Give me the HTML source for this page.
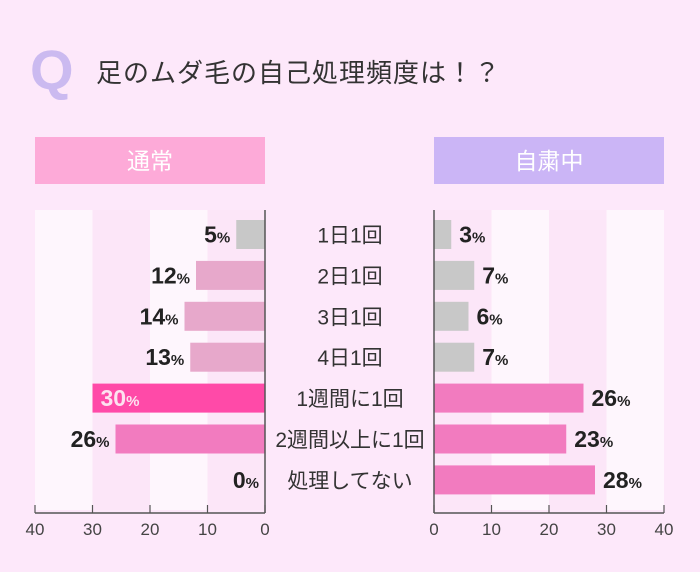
<!DOCTYPE html>
<html><head><meta charset="utf-8"><style>
body{margin:0;width:700px;height:572px;background:#fde8fa;overflow:hidden;font-family:"Liberation Sans","Noto Sans CJK JP",sans-serif;}
svg{display:block}
</style></head><body>
<svg id="c" width="700" height="572">
<text x="30" y="89" font-size="56" font-weight="bold" fill="#cbbaf0" font-family="Liberation Sans, sans-serif">Q</text>
<text x="96" y="82" font-size="26" fill="#333" letter-spacing="1">足のムダ毛の自己処理頻度は！？</text>
<rect x="35" y="137" width="230" height="47" fill="#fdaad8"/>
<text x="150" y="169" font-size="23" fill="#fff" text-anchor="middle">通常</text>
<rect x="434" y="137" width="230" height="47" fill="#cbb5f6"/>
<text x="549" y="169" font-size="23" fill="#fff" text-anchor="middle">自粛中</text>
<g id="g"></g>
</svg>
<script>
const categories=["1日1回","2日1回","3日1回","4日1回","1週間に1回","2週間以上に1回","処理してない"];
const normalValues=[5,12,14,13,30,26,0];
const selfRestraintValues=[3,7,6,7,26,23,28];
const ticks=[0,10,20,30,40];
const leftColors=["#c8c8c8","#e7a8cb","#e7a8cb","#e7a8cb","#ff4aa8","#f27bbf","#f27bbf"];
const rightColors=["#c8c8c8","#c8c8c8","#c8c8c8","#c8c8c8","#f27bbf","#f27bbf","#f27bbf"];
const NS="http://www.w3.org/2000/svg";
const g=document.getElementById('g');
const L0=265,R0=434,S=5.75;
const xl=v=>L0-v*S, xr=v=>R0+v*S;
const yc=i=>234.5+i*40.9;
function mk(t,a,p){const e=document.createElementNS(NS,t);for(const k in a)e.setAttribute(k,a[k]);(p||g).appendChild(e);return e;}
for(let k=0;k<4;k++){
  const fill=(k%2===1)?"#fef6fd":"#fce6f8";
  let r=mk('rect',{x:xl(ticks[k+1]),y:210,width:10*S,height:300,fill:fill});
  
  let r2=mk('rect',{x:xr(ticks[k]),y:210,width:10*S,height:300,fill:fill});
  
}
categories.forEach((c,i)=>{
  const y=yc(i);
  const lv=normalValues[i], rv=selfRestraintValues[i];
  let b=mk('rect',{x:xl(lv),y:y-14.5,width:lv*S,height:29,fill:leftColors[i]});
  
  let b2=mk('rect',{x:R0,y:y-14.5,width:rv*S,height:29,fill:rightColors[i]});
  
  const inside=(i===4);
  let t=mk('text',{x:inside?xl(lv)+8:xl(lv)-6,y:y+8,'font-size':23,'font-weight':'bold',fill:inside?'#fde2f0':'#222','text-anchor':inside?'start':'end'});
  t.innerHTML=lv+'<tspan font-size="15">%</tspan>';
  
  let t2=mk('text',{x:xr(rv)+8,y:y+8,'font-size':23,'font-weight':'bold',fill:'#222'});
  t2.innerHTML=rv+'<tspan font-size="15">%</tspan>';
  
  let cl=mk('text',{x:350,y:y+8,'font-size':21,fill:'#333','text-anchor':'middle'});
  cl.textContent=c;
  
});
[[L0,xl],[R0,xr]].forEach(([x0,f],side)=>{
  let a=mk('line',{x1:x0,y1:210,x2:x0,y2:513,stroke:'#555','stroke-width':1.5});
  
  let h=mk('line',{x1:f(0),y1:513,x2:f(40),y2:513,stroke:'#555','stroke-width':1.5});
  
  ticks.forEach(v=>{
    let tk=mk('line',{x1:f(v),y1:505,x2:f(v),y2:513,stroke:'#555','stroke-width':1.2});
    
    let tl=mk('text',{x:f(v),y:535,'font-size':17,fill:'#444','text-anchor':'middle'});
    tl.textContent=v;
    
  });
});
</script>
</body></html>
